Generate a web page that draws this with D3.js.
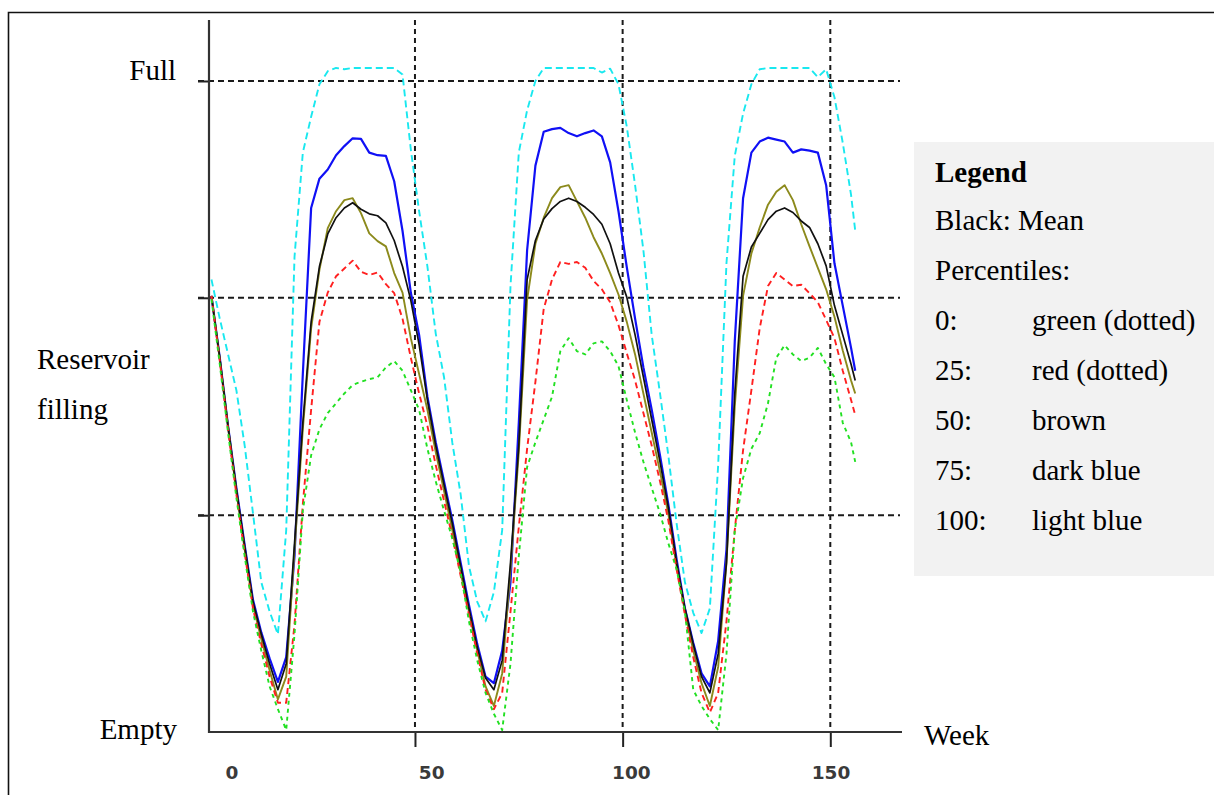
<!DOCTYPE html>
<html><head><meta charset="utf-8">
<script src="https://cdn.jsdelivr.net/npm/d3@7"></script>
<style>body{margin:0;background:#fff}svg{display:block}</style>
</head><body><svg id="c" width="1214" height="795"></svg>
<script>
// ---- data (values in % of a full reservoir) ----
const weeks = [1,3,5,7,9,11,13,15,17,19,21,23,25,27,29,31,33,35,37,39,41,43,45,47,49,51,53,55,57,59,61,63,65,67,69,71,73,75,77,79,81,83,85,87,89,91,93,95,97,99,101,103,105,107,109,111,113,115,117,119,121,123,125,127,129,131,133,135,137,139,141,143,145,147,149,151,153,155,156];

const pct75 = [67,57.5,47,37.5,28.7,20.3,15.3,11.3,7.7,11.5,
 27,55,80.5,85,86.4,88.6,90,91.2,91.1,89,
 88.6,88.5,84.6,77,67.5,61,51.5,44.5,38.5,32.5,
 26,19.5,13.5,8.5,7.5,12.5,23,47.5,74,87,
 92.2,92.6,92.8,92,91.5,92,92.4,91.5,87.5,80,
 71.4,63.5,56,49.5,42.5,35,26.5,19,13.7,9,
 7,14,28,60,82,89,90.7,91.3,91,90.7,
 89,89.5,89.3,89,84,72,65.5,59,55.5];

const mean = [67,57.5,47,37.3,28.5,20,15,10.5,6.5,10.5,
 29,47.5,63,71.5,76.5,79,80.5,81.3,80.3,79.6,
 79.3,78.2,75.5,71.5,66.3,59.5,51,44,38,32,
 25.5,19,13,8.3,6.5,11,26,44,69.5,75.5,
 78.8,80.4,81.5,82,81.5,80.6,79.5,78,75,70.5,
 66.8,61,54.5,48,41.5,34.5,26,19,13.5,8.5,
 6,12,26,52,70,74.5,76.6,78.7,80,80.5,
 79.8,78.5,77.5,75,71.6,65.5,61,56.5,54];

const pct50 = [67,57.3,46.8,37,28,19.5,14.3,9.5,5,8.5,
 28,46.5,62,71,77.4,80,81.7,82,79.7,76.6,
 75.4,74.6,70.5,67.5,60.5,55,49.5,43,37,31,
 24.5,18.5,12.5,7,4,9,25,43,66.4,75,
 79,82,83.7,84,81.5,79,76,73.5,70.5,67.2,
 63,58,52,46,40,33.5,25.5,18.5,12.5,7.5,
 4,10,26,50,67,73.5,77.5,81,83,84,
 81.7,78,74.6,71.3,68,63.8,58.6,54,52];

const pct25 = [67,57,46.5,36.5,27.5,19,13.5,8.5,4.5,4.5,
 16.5,35,49.5,63,67.5,70,71.2,72.4,70.7,70.2,
 70.6,68.8,67.4,63.5,57.5,52,47,41,35.5,30,
 24,18,12,6.5,3.5,6,18.5,31.5,43.5,53.8,
 65,69.5,72.2,71.9,72.2,71.3,69.3,68,66,62.5,
 58.2,54,49,44,38.5,32.5,25,18,11.5,6,
 3,6,17,31,43.3,52.5,62,68.5,70.5,69.5,
 68.5,68.7,67.4,66,63.3,60.5,55.5,51,48.7];

const pct0 = [66.5,56.5,46,36,27,18.5,12.5,7,3.5,0.3,
 15,34,42.5,46.5,49,50.5,52,53.3,53.8,54.2,
 54.5,56,57,55.5,52.5,49.5,43.5,38.5,34,29.7,
 24.5,17,11,6,2.8,0.3,10.5,27,40.7,44.5,
 48,51.5,58.5,60.5,58.5,58,59.7,60,58.5,56.2,
 51,46,41.5,37.5,33.6,29,25,18.5,6.5,4,
 2,0.3,12,31,39,43.5,45.9,50.5,57.5,59.4,
 58,57,57.5,59,56.5,54.5,47.5,44.5,41.5];

const pct100 = [69.5,63.5,58,52.5,44,33.6,23,18.5,15,31,
 73,89,94.5,99.5,101.5,102,101.8,102,102,102,
 102,102,102,101,89.5,80,71.5,61.2,54.5,44.4,
 36.5,25.5,20,17,21.5,31,68.5,89,95.5,100,
 102,102,102,102,102,102,102,101.3,101.9,99.5,
 93,84,74,61,52,42.5,32,23,18.3,15.2,
 19,41,72,88.5,95,99.5,101.8,102,102,102,
 102,102,102,100.6,101.8,97.5,90.5,82.5,77];

const xTickValues = [0, 50, 100, 150];
const yGridValues = [33.3, 66.7, 100];
const yEndLabels = ["Empty", "Full"];
const yTitle = ["Reservoir", "filling"];
const xTitle = "Week";
const legendTitle = "Legend";
const legendIntro = ["Black: Mean", "Percentiles:"];
const legendKeys = ["0:", "25:", "50:", "75:", "100:"];
const legendNames = ["green (dotted)", "red (dotted)", "brown", "dark blue", "light blue"];

// ---- drawing ----
const svg = d3.select("#c");
const serif = "'Liberation Serif','Times New Roman',serif";
const x = d3.scaleLinear().domain([0, 150]).range([207.3, 830.3]);
const y = d3.scaleLinear().domain([0, 100]).range([732, 81]);
const labelX = d3.scaleLinear().domain([0, 150]).range([232, 831]);

// outer frame (top + left edges)
svg.append("path").attr("d", "M1214,12.5H8.5V795")
  .attr("fill", "none").attr("stroke", "#111").attr("stroke-width", 1.6);

// legend panel
svg.append("rect").attr("x", 914).attr("y", 142).attr("width", 300).attr("height", 434)
  .attr("fill", "#f2f2f2");

const plot = svg.append("g");
const gridColor = "#1a1a1a";

// horizontal dashed gridlines
plot.selectAll("line.hg").data(yGridValues).join("line").attr("class", "hg")
  .attr("x1", 198).attr("x2", 900).attr("y1", d => y(d)).attr("y2", d => y(d))
  .attr("stroke", gridColor).attr("stroke-width", 2).attr("stroke-dasharray", "6,4");

// vertical dashed gridlines
plot.selectAll("line.vg").data(xTickValues.filter(d => d > 0)).join("line").attr("class", "vg")
  .attr("x1", d => x(d)).attr("x2", d => x(d)).attr("y1", 20).attr("y2", 732)
  .attr("stroke", gridColor).attr("stroke-width", 2).attr("stroke-dasharray", "5,4");

// axes ticks via d3 axes
const yAxis = plot.append("g").attr("transform", "translate(209,0)")
  .call(d3.axisLeft(y).tickValues(yGridValues).tickSize(11).tickFormat(""));
const xAxis = plot.append("g").attr("transform", "translate(0,732)")
  .call(d3.axisBottom(x).tickValues(xTickValues.filter(d => d > 0)).tickSize(15).tickFormat(""));
[yAxis, xAxis].forEach(g => {
  g.select(".domain").remove();
  g.selectAll(".tick line").attr("stroke", "#222").attr("stroke-width", 2);
});

// axis lines
plot.append("line").attr("x1", 209).attr("x2", 209).attr("y1", 20).attr("y2", 733)
  .attr("stroke", "#333").attr("stroke-width", 2.2);
plot.append("line").attr("x1", 208).attr("x2", 902).attr("y1", 732).attr("y2", 732)
  .attr("stroke", "#333").attr("stroke-width", 2.2);

// x tick labels
plot.selectAll("text.xl").data(xTickValues).join("text").attr("class", "xl")
  .attr("x", d => labelX(d)).attr("y", 779).attr("text-anchor", "middle")
  .attr("font-family", "'DejaVu Sans',Verdana,sans-serif").attr("font-weight", "bold")
  .attr("font-size", 18.5).attr("fill", "#3a3a3a").text(d => d);

// series
const series = [
  {vals: pct100, color: "#19e8ef", w: 1.9, dash: "7,4"},
  {vals: pct75, color: "#1010f5", w: 2.2, dash: null},
  {vals: pct50, color: "#8c8a1c", w: 1.9, dash: null},
  {vals: mean, color: "#111111", w: 1.7, dash: null},
  {vals: pct25, color: "#ff2020", w: 1.9, dash: "6,4"},
  {vals: pct0, color: "#22e022", w: 1.9, dash: "4,4"}
];
const line = d3.line().x((d, i) => x(weeks[i])).y(d => y(d));
plot.selectAll("path.s").data(series).join("path").attr("class", "s")
  .attr("d", d => line(d.vals)).attr("fill", "none")
  .attr("stroke", d => d.color).attr("stroke-width", d => d.w)
  .attr("stroke-dasharray", d => d.dash).attr("stroke-linejoin", "round");

// serif texts
const fs = 29;
svg.append("text").attr("x", 176).attr("y", 80).attr("text-anchor", "end")
  .attr("font-family", serif).attr("font-size", fs).text(yEndLabels[1]);
svg.append("text").attr("x", 177).attr("y", 739).attr("text-anchor", "end")
  .attr("font-family", serif).attr("font-size", fs).text(yEndLabels[0]);
svg.selectAll("text.yt").data(yTitle).join("text").attr("class", "yt")
  .attr("x", 37).attr("y", (d, i) => 369 + i * 50)
  .attr("font-family", serif).attr("font-size", fs).text(d => d);
svg.append("text").attr("x", 924).attr("y", 745)
  .attr("font-family", serif).attr("font-size", fs).text(xTitle);

// legend text
svg.append("text").attr("x", 935).attr("y", 182).attr("font-family", serif)
  .attr("font-weight", "bold").attr("font-size", fs).text(legendTitle);
svg.selectAll("text.li").data(legendIntro).join("text").attr("class", "li")
  .attr("x", 935).attr("y", (d, i) => 230 + i * 50)
  .attr("font-family", serif).attr("font-size", fs).text(d => d);
svg.selectAll("text.lk").data(legendKeys).join("text").attr("class", "lk")
  .attr("x", 935).attr("y", (d, i) => 330 + i * 50)
  .attr("font-family", serif).attr("font-size", fs).text(d => d);
svg.selectAll("text.ln").data(legendNames).join("text").attr("class", "ln")
  .attr("x", 1032).attr("y", (d, i) => 330 + i * 50)
  .attr("font-family", serif).attr("font-size", fs).text(d => d);
</script></body></html>
